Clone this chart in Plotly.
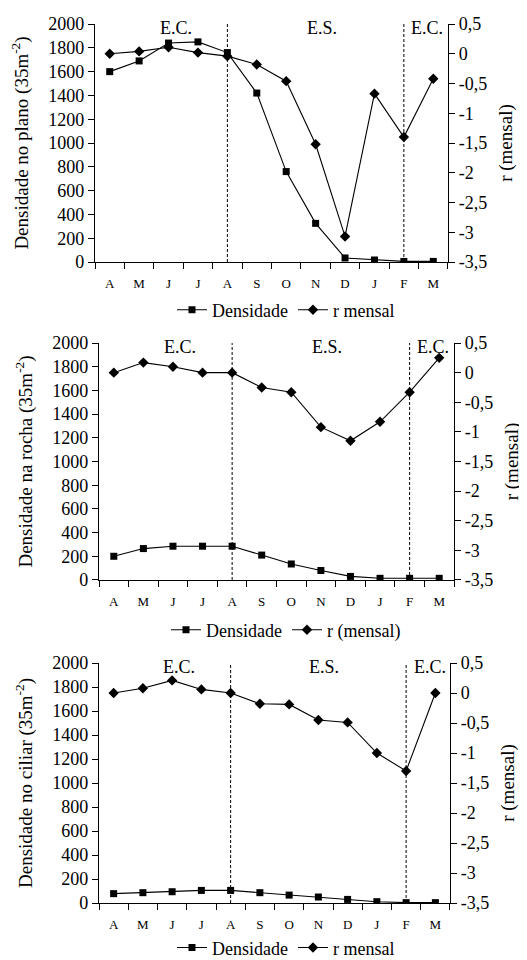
import plotly.graph_objects as go

months = ["A", "M", "J", "J", "A", "S", "O", "N", "D", "J", "F", "M"]

dens_plano = [1600, 1690, 1840, 1850, 1760, 1420, 760, 325, 34, 17, 5, 5]
r_plano = [0.0, 0.04, 0.11, 0.02, -0.04, -0.18, -0.46, -1.52, -3.07, -0.67, -1.40, -0.42]

dens_rocha = [200, 265, 285, 285, 285, 210, 135, 80, 30, 14, 14, 14]
r_rocha = [0.0, 0.17, 0.10, 0.0, 0.0, -0.25, -0.33, -0.92, -1.15, -0.83, -0.33, 0.25]

dens_ciliar = [78, 86, 94, 105, 105, 86, 66, 50, 30, 11, 3, 3]
r_ciliar = [0.0, 0.08, 0.21, 0.06, 0.0, -0.18, -0.19, -0.45, -0.49, -1.0, -1.30, 0.0]

left_ticks = [0, 200, 400, 600, 800, 1000, 1200, 1400, 1600, 1800, 2000]
right_ticks = [0.5, 0, -0.5, -1, -1.5, -2, -2.5, -3, -3.5]
right_ticktext = ["0,5", "0", "-0,5", "-1", "-1,5", "-2", "-2,5", "-3", "-3,5"]

season_breaks = [4, 10]  # indices of months where season changes (A, F)
season_labels = ["E.C.", "E.S.", "E.C."]
season_label_pos = [2.25, 7.2, 10.8]

panels = [
    dict(dens=dens_plano, r=r_plano, ytitle="Densidade no plano (35m<sup>-2</sup>)",
         rname="r mensal", ydom=[0.7354, 0.9833], xdom=[0.1651, 0.8349], legy=0.6854),
    dict(dens=dens_rocha, r=r_rocha, ytitle="Densidade na rocha (35m<sup>-2</sup>)",
         rname="r (mensal)", ydom=[0.4042, 0.6510], xdom=[0.1727, 0.8463], legy=0.3521),
    dict(dens=dens_ciliar, r=r_ciliar, ytitle="Densidade no ciliar (35m<sup>-2</sup>)",
         rname="r mensal", ydom=[0.0677, 0.3177], xdom=[0.1727, 0.8387], legy=0.021),
]

FONT = "Liberation Serif"
xpos = list(range(len(months)))
bounds = [i - 0.5 for i in range(len(months) + 1)]

fig = go.Figure()
layout = dict(
    width=527, height=960, margin=dict(l=0, r=0, t=0, b=0, autoexpand=False),
    paper_bgcolor="white", plot_bgcolor="white",
    font=dict(family=FONT, color="black", size=18),
    showlegend=True,
)
shapes = []
annotations = []

for p_i, p in enumerate(panels):
    xa = 3 * p_i + 1          # main x
    xb = 3 * p_i + 2          # overlay x (inside ticks)
    ya = 4 * p_i + 1          # left y
    yb = 4 * p_i + 2          # right y
    yc = 4 * p_i + 3          # left overlay (inside ticks)
    yd = 4 * p_i + 4          # right overlay (inside ticks)

    def nm(prefix, n):
        return prefix if n == 1 else f"{prefix}{n}"

    leg = "legend" if p_i == 0 else f"legend{p_i + 1}"

    fig.add_trace(go.Scatter(
        x=xpos, y=p["dens"], mode="lines+markers", name="Densidade",
        line=dict(color="black", width=1.1),
        marker=dict(symbol="square", size=7, color="black"),
        xaxis=nm("x", xa), yaxis=nm("y", ya), legend=leg,
    ))
    fig.add_trace(go.Scatter(
        x=xpos, y=p["r"], mode="lines+markers", name=p["rname"],
        line=dict(color="black", width=1.1),
        marker=dict(symbol="diamond", size=8, color="black"),
        xaxis=nm("x", xa), yaxis=nm("y", yb), legend=leg,
    ))

    xr = [-0.5, len(months) - 0.5]
    layout[nm("xaxis", xa)] = dict(
        domain=p["xdom"], anchor=nm("y", ya), range=xr, automargin=False,
        tickmode="array", tickvals=xpos, ticktext=months, ticks="",
        tickfont=dict(family=FONT, size=13), ticklabelstandoff=9,
        showline=True, linecolor="black", linewidth=1.2, showgrid=False, zeroline=False,
        minor=dict(tickmode="array", tickvals=bounds, ticks="outside", ticklen=6,
                   tickcolor="black", tickwidth=1, showgrid=False),
    )
    layout[nm("xaxis", xb)] = dict(
        overlaying=nm("x", xa), anchor=nm("y", ya), range=xr, side="bottom",
        automargin=False,
        tickmode="array", tickvals=bounds, ticks="inside", ticklen=6,
        tickcolor="black", tickwidth=1, showticklabels=False,
        showline=False, showgrid=False, zeroline=False,
    )
    layout[nm("yaxis", ya)] = dict(
        domain=p["ydom"], anchor=nm("x", xa), range=[0, 2000], automargin=False,
        tickmode="array", tickvals=left_ticks, ticks="outside", ticklen=6,
        tickcolor="black", tickwidth=1, tickfont=dict(family=FONT, size=18),
        showline=True, linecolor="black", linewidth=1.2, showgrid=False, zeroline=False,
        title=dict(text=p["ytitle"], font=dict(family=FONT, size=19), standoff=14),
    )
    layout[nm("yaxis", yb)] = dict(
        overlaying=nm("y", ya), anchor=nm("x", xa), side="right", range=[-3.5, 0.5],
        automargin=False,
        tickmode="array", tickvals=right_ticks, ticktext=right_ticktext,
        ticks="outside", ticklen=6, tickcolor="black", tickwidth=1,
        tickfont=dict(family=FONT, size=18),
        showline=True, linecolor="black", linewidth=1.2, showgrid=False, zeroline=False,
        title=dict(text="r (mensal)", font=dict(family=FONT, size=19), standoff=12),
    )
    layout[nm("yaxis", yc)] = dict(
        overlaying=nm("y", ya), anchor=nm("x", xa), side="left", range=[0, 2000],
        automargin=False,
        tickmode="array", tickvals=left_ticks, ticks="inside", ticklen=6,
        tickcolor="black", tickwidth=1, showticklabels=False,
        showline=False, showgrid=False, zeroline=False,
    )
    layout[nm("yaxis", yd)] = dict(
        overlaying=nm("y", ya), anchor=nm("x", xa), side="right", range=[-3.5, 0.5],
        automargin=False,
        tickmode="array", tickvals=right_ticks, ticks="inside", ticklen=6,
        tickcolor="black", tickwidth=1, showticklabels=False,
        showline=False, showgrid=False, zeroline=False,
    )

    for b in season_breaks:
        shapes.append(dict(
            type="line", xref=nm("x", xa), yref=nm("y", ya) + " domain",
            x0=b, x1=b, y0=0, y1=1,
            line=dict(color="black", width=1, dash="3px,2px"),
        ))
    for lbl, pos in zip(season_labels, season_label_pos):
        annotations.append(dict(
            text=lbl, xref=nm("x", xa), yref=nm("y", ya) + " domain",
            x=pos, y=0.985, xanchor="center", yanchor="middle",
            showarrow=False, font=dict(family=FONT, size=18),
        ))

    layout[leg] = dict(
        orientation="h", x=0.5275, xanchor="center", y=p["legy"], yanchor="middle",
        xref="paper", yref="paper",
        font=dict(family=FONT, size=18), bgcolor="rgba(0,0,0,0)", itemwidth=30,
        tracegroupgap=0,
    )

layout["shapes"] = shapes
layout["annotations"] = annotations
fig.update_layout(**layout)
fig.write_html("out.html")
